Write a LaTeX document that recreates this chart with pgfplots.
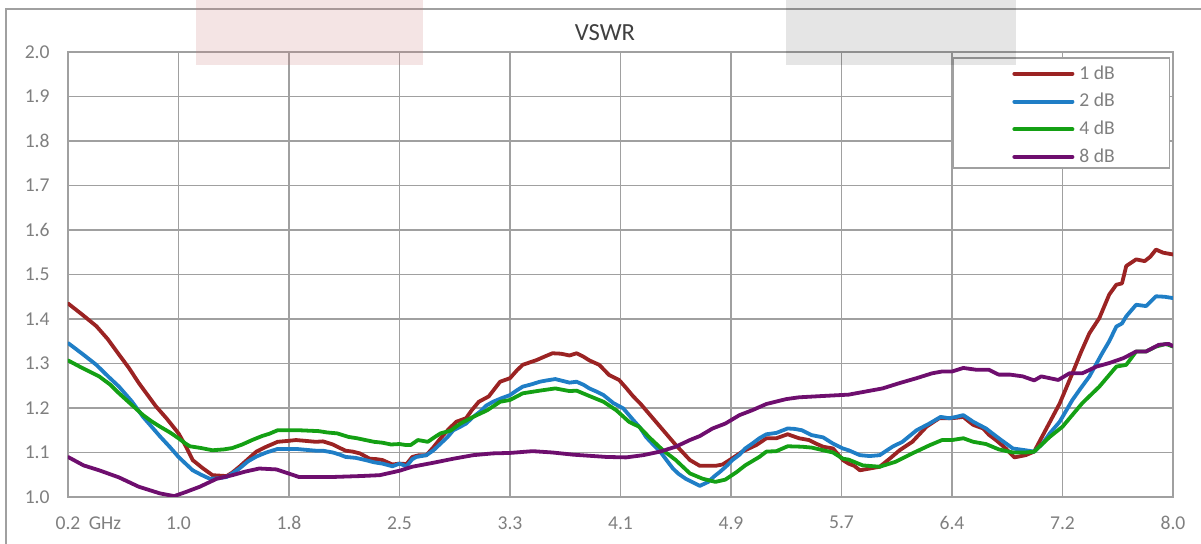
\documentclass[border=0pt]{standalone}
\usepackage{fontspec}
\setmainfont{Carlito}
\usepackage{pgfplots}
\pgfplotsset{compat=1.18}
\definecolor{c1}{HTML}{9B2323}
\definecolor{c2}{HTML}{1F7EC6}
\definecolor{c3}{HTML}{14A014}
\definecolor{c4}{HTML}{6E0E6E}
\definecolor{gridc}{HTML}{A0A0A0}
\definecolor{labc}{HTML}{7F7F7F}
\definecolor{titc}{HTML}{404040}

\begin{document}
\begin{tikzpicture}
\useasboundingbox (0pt,0pt) rectangle (600.5pt,-272pt);
% outer chart frame (runs off the picture at right and bottom)
\draw[gridc, line width=0.8pt] (3pt,-280pt) -- (3pt,-4.5pt) -- (610pt,-4.5pt);

\begin{axis}[
  at={(34pt,-248.5pt)}, anchor=south west,
  scale only axis, width=552.5pt, height=222.5pt,
  xmin=0.2, xmax=8.0, ymin=1.0, ymax=2.0,
  xtick={0.2,0.98,1.76,2.54,3.32,4.10,4.88,5.66,6.44,7.22,8.0},
  xticklabels={0.2\rlap{\hspace{4.2pt}GHz},1.0,1.8,2.5,3.3,4.1,4.9,5.7,6.4,7.2,8.0},
  ytick={1.0,1.1,...,2.01},
  yticklabel style={/pgf/number format/fixed, /pgf/number format/fixed zerofill,
    /pgf/number format/precision=1, /pgf/number format/assume math mode=true, xshift=-9pt},
  grid=major,
  major grid style={gridc, line width=0.9pt},
  axis line style={gridc, line width=0.9pt},
  major tick length=0pt,
  tick label style={font=\fontsize{9.8}{11}\selectfont, text=labc, inner sep=0pt},
  xticklabel style={yshift=-9.5pt},
  legend cell align=left,
  legend style={at={(rel axis cs:0.8543,0.983)}, anchor=north west, draw=none, fill=none,
    inner sep=0pt, row sep=0pt, column sep=2.5pt,
    font=\fontsize{9.8}{11}\selectfont, text=labc,
    nodes={inner sep=0pt, minimum height=13.85pt}},
  legend image code/.code={\draw[#1, line width=2pt] (0pt,0pt) -- (29pt,0pt);},
  every axis plot/.append style={line width=1.9pt, line join=round, line cap=round},
]
\draw[gridc, line width=0.8pt, fill=white] (rel axis cs:0.801,0.9865) rectangle (rel axis cs:0.997,0.7393);

\addplot[c1] coordinates {
(0.20,1.435) (0.30,1.410) (0.40,1.384) (0.48,1.355) (0.56,1.320) (0.63,1.290)
(0.70,1.256) (0.76,1.230) (0.82,1.204) (0.90,1.175) (0.98,1.143) (1.03,1.115)
(1.08,1.083) (1.15,1.065) (1.22,1.049) (1.27,1.048) (1.32,1.047) (1.36,1.055)
(1.41,1.068) (1.47,1.085) (1.53,1.102) (1.60,1.113) (1.68,1.124) (1.75,1.126)
(1.81,1.128) (1.88,1.126) (1.95,1.124) (2.00,1.125) (2.07,1.118) (2.12,1.110)
(2.16,1.104) (2.21,1.102) (2.26,1.098) (2.33,1.086) (2.38,1.085) (2.42,1.083)
(2.49,1.073) (2.54,1.075) (2.59,1.074) (2.63,1.090) (2.68,1.094) (2.73,1.094)
(2.78,1.112) (2.83,1.132) (2.88,1.150) (2.94,1.169) (3.01,1.177) (3.05,1.195)
(3.10,1.214) (3.17,1.226) (3.25,1.259) (3.32,1.267) (3.37,1.285) (3.41,1.297)
(3.51,1.308) (3.56,1.315) (3.62,1.323) (3.68,1.322) (3.74,1.318) (3.79,1.323)
(3.84,1.315) (3.88,1.307) (3.95,1.297) (4.02,1.274) (4.09,1.263) (4.14,1.245)
(4.19,1.226) (4.24,1.210) (4.28,1.195) (4.35,1.169) (4.42,1.143) (4.49,1.117)
(4.54,1.100) (4.59,1.083) (4.66,1.070) (4.72,1.070) (4.77,1.070) (4.82,1.073)
(4.87,1.083) (4.96,1.102) (5.06,1.117) (5.13,1.132) (5.20,1.132) (5.28,1.141)
(5.36,1.132) (5.43,1.128) (5.48,1.120) (5.53,1.113) (5.60,1.109) (5.67,1.083)
(5.71,1.075) (5.75,1.070) (5.79,1.060) (5.86,1.064) (5.93,1.068) (6.00,1.086)
(6.07,1.105) (6.16,1.124) (6.26,1.158) (6.35,1.177) (6.42,1.177) (6.47,1.178)
(6.52,1.180) (6.55,1.172) (6.59,1.162) (6.66,1.154) (6.70,1.140) (6.75,1.128)
(6.82,1.109) (6.88,1.089) (6.96,1.094) (7.02,1.102) (7.10,1.150) (7.20,1.210)
(7.29,1.278) (7.35,1.325) (7.41,1.368) (7.48,1.402) (7.55,1.455) (7.60,1.477)
(7.64,1.480) (7.67,1.519) (7.74,1.534) (7.80,1.530) (7.84,1.540) (7.88,1.556)
(7.93,1.549) (8.00,1.545)
};
\addlegendentry{1 dB}

\addplot[c2] coordinates {
(0.20,1.346) (0.30,1.322) (0.40,1.297) (0.48,1.272) (0.56,1.248) (0.65,1.215)
(0.73,1.180) (0.79,1.158) (0.85,1.136) (0.92,1.112) (0.98,1.090) (1.03,1.075)
(1.08,1.060) (1.14,1.050) (1.20,1.041) (1.26,1.042) (1.32,1.045) (1.36,1.053)
(1.41,1.064) (1.47,1.080) (1.53,1.091) (1.60,1.100) (1.68,1.108) (1.75,1.108)
(1.81,1.108) (1.88,1.106) (1.95,1.104) (2.00,1.104) (2.07,1.100) (2.12,1.095)
(2.16,1.090) (2.23,1.088) (2.30,1.083) (2.36,1.078) (2.42,1.075) (2.49,1.069)
(2.54,1.075) (2.59,1.069) (2.63,1.085) (2.66,1.090) (2.73,1.094) (2.78,1.105)
(2.83,1.120) (2.88,1.135) (2.92,1.150) (2.97,1.158) (3.01,1.165) (3.06,1.180)
(3.11,1.192) (3.15,1.205) (3.20,1.214) (3.26,1.222) (3.32,1.229) (3.37,1.240)
(3.41,1.248) (3.47,1.253) (3.53,1.259) (3.58,1.262) (3.64,1.265) (3.69,1.261)
(3.74,1.257) (3.79,1.259) (3.84,1.252) (3.88,1.244) (3.93,1.237) (3.98,1.229)
(4.05,1.211) (4.12,1.199) (4.19,1.173) (4.24,1.155) (4.28,1.135) (4.33,1.118)
(4.38,1.102) (4.42,1.085) (4.47,1.064) (4.51,1.052) (4.56,1.041) (4.61,1.033)
(4.66,1.025) (4.72,1.034) (4.76,1.046) (4.80,1.056) (4.85,1.070) (4.89,1.083)
(4.94,1.095) (4.98,1.109) (5.03,1.120) (5.08,1.132) (5.13,1.141) (5.20,1.144)
(5.28,1.154) (5.33,1.153) (5.38,1.150) (5.45,1.139) (5.53,1.134) (5.60,1.120)
(5.67,1.109) (5.71,1.105) (5.79,1.094) (5.86,1.092) (5.93,1.094) (6.02,1.113)
(6.09,1.124) (6.19,1.150) (6.28,1.165) (6.36,1.180) (6.42,1.177) (6.47,1.180)
(6.52,1.184) (6.59,1.169) (6.68,1.154) (6.77,1.132) (6.87,1.109) (6.96,1.105)
(7.02,1.102) (7.08,1.120) (7.13,1.143) (7.20,1.169) (7.29,1.218) (7.35,1.245)
(7.41,1.271) (7.50,1.323) (7.55,1.350) (7.60,1.383) (7.64,1.390) (7.67,1.406)
(7.74,1.432) (7.81,1.429) (7.88,1.451) (7.94,1.450) (8.00,1.447)
};
\addlegendentry{2 dB}

\addplot[c3] coordinates {
(0.20,1.307) (0.30,1.290) (0.42,1.271) (0.50,1.252) (0.56,1.233) (0.65,1.207)
(0.73,1.184) (0.79,1.170) (0.85,1.158) (0.92,1.145) (0.98,1.132) (1.03,1.120)
(1.06,1.114) (1.14,1.110) (1.22,1.105) (1.30,1.107) (1.36,1.110) (1.43,1.118)
(1.50,1.128) (1.57,1.137) (1.62,1.142) (1.68,1.150) (1.76,1.150) (1.83,1.150)
(1.90,1.149) (1.97,1.148) (2.03,1.145) (2.10,1.143) (2.18,1.135) (2.24,1.132)
(2.30,1.128) (2.36,1.124) (2.42,1.122) (2.48,1.118) (2.54,1.119) (2.58,1.117)
(2.62,1.117) (2.67,1.128) (2.74,1.124) (2.79,1.135) (2.83,1.143) (2.90,1.149)
(2.97,1.165) (3.06,1.180) (3.16,1.195) (3.25,1.214) (3.32,1.218) (3.41,1.233)
(3.53,1.239) (3.64,1.244) (3.74,1.238) (3.79,1.239) (3.88,1.227) (3.98,1.214)
(4.07,1.195) (4.16,1.169) (4.23,1.158) (4.31,1.132) (4.40,1.105) (4.49,1.083)
(4.54,1.068) (4.59,1.053) (4.68,1.041) (4.77,1.034) (4.84,1.039) (4.92,1.056)
(4.98,1.071) (5.08,1.090) (5.13,1.102) (5.20,1.103) (5.28,1.114) (5.38,1.113)
(5.45,1.111) (5.53,1.105) (5.60,1.100) (5.67,1.086) (5.71,1.084) (5.81,1.071)
(5.93,1.068) (6.04,1.079) (6.16,1.098) (6.28,1.116) (6.37,1.128) (6.44,1.128)
(6.52,1.132) (6.59,1.124) (6.68,1.119) (6.77,1.107) (6.87,1.100) (6.96,1.100)
(7.02,1.102) (7.13,1.135) (7.22,1.158) (7.36,1.211) (7.48,1.248) (7.60,1.293)
(7.67,1.297) (7.74,1.327) (7.81,1.327) (7.88,1.338) (7.95,1.344) (8.00,1.338)
};
\addlegendentry{4 dB}

\addplot[c4] coordinates {
(0.20,1.090) (0.31,1.071) (0.42,1.060) (0.56,1.044) (0.70,1.023) (0.85,1.008)
(0.95,1.002) (1.03,1.011) (1.13,1.023) (1.25,1.041) (1.36,1.049) (1.45,1.057)
(1.55,1.064) (1.67,1.062) (1.83,1.045) (1.95,1.045) (2.07,1.045) (2.26,1.047)
(2.40,1.049) (2.54,1.059) (2.63,1.068) (2.78,1.077) (2.92,1.086) (3.06,1.094)
(3.20,1.098) (3.32,1.099) (3.48,1.103) (3.62,1.100) (3.77,1.095) (3.91,1.092)
(4.00,1.090) (4.14,1.089) (4.26,1.094) (4.38,1.102) (4.49,1.113) (4.59,1.128)
(4.66,1.137) (4.75,1.154) (4.84,1.165) (4.94,1.184) (5.03,1.195) (5.13,1.209)
(5.27,1.220) (5.36,1.224) (5.53,1.227) (5.71,1.230) (5.83,1.237) (5.95,1.244)
(6.07,1.256) (6.19,1.267) (6.30,1.278) (6.37,1.282) (6.44,1.282) (6.52,1.290)
(6.61,1.286) (6.70,1.286) (6.77,1.275) (6.85,1.275) (6.94,1.271) (7.02,1.262)
(7.07,1.271) (7.13,1.267) (7.19,1.263) (7.27,1.278) (7.36,1.278) (7.46,1.293)
(7.55,1.301) (7.65,1.312) (7.74,1.327) (7.81,1.327) (7.90,1.342) (7.97,1.344)
(8.00,1.339)
};
\addlegendentry{8 dB}
\end{axis}

\node[font=\fontsize{12.3}{14}\selectfont, text=titc] at (302.5pt,-16.5pt) {VSWR};
% translucent boxes across the top edge
\fill[fill={rgb,255:red,200;green,120;blue,120}, opacity=0.2] (98pt,0pt) rectangle (211.5pt,-32.5pt);
\fill[black, opacity=0.1] (393pt,0pt) rectangle (508pt,-32.5pt);
\end{tikzpicture}
\end{document}
